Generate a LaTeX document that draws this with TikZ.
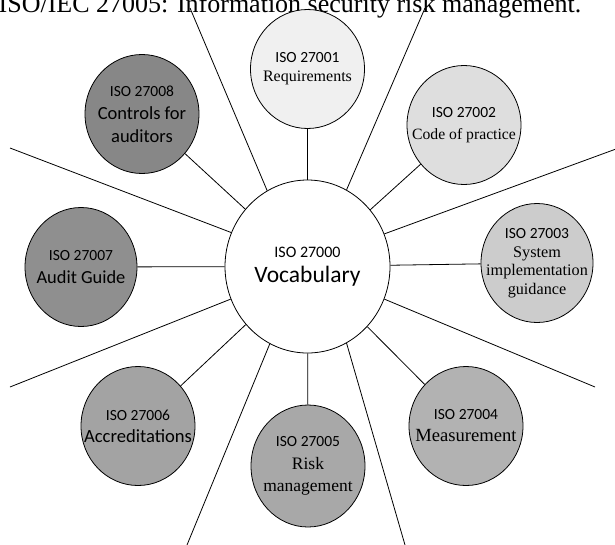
\documentclass[tikz,border=0pt]{standalone}
\usepackage{fontspec}
\setmainfont{Liberation Serif}
\newfontfamily\carl{Carlito}
\usetikzlibrary{shapes.geometric}
\newcommand\fsz[2]{\fontsize{#1}{#2}\selectfont}
\begin{document}
\begin{tikzpicture}[x=1pt,y=-1pt,
  bub/.style={ellipse, draw=black, line width=0.8pt, inner sep=0pt, minimum width=114pt, minimum height=119pt},
  txt/.style={align=center, inner sep=0pt, text=black},
  ray/.style={draw=black, line width=0.8pt},
]
\useasboundingbox (0,0) rectangle (615,544);

% title (partly cut off at the top, as in the reference)
\node[anchor=base, inner sep=0pt] (title) at (290,12) {\fsz{26}{30}ISO/IEC 27005: Information security risk management.};

% circles
\node[bub, fill=white, minimum width=165pt, minimum height=173pt] (c0) at (307.5,266.5) {};
\node[bub, fill=black!6]  (c1) at (307.5,69) {};
\node[bub, fill=black!13] (c2) at (464,125) {};
\node[bub, fill=black!20, minimum width=112pt] (c3) at (537,263) {};
\node[bub, fill=black!30] (c4) at (466,426) {};
\node[bub, fill=black!34, minimum height=122pt] (c5) at (308,466) {};
\node[bub, fill=black!36] (c6) at (138,426) {};
\node[bub, fill=black!44, minimum width=112pt] (c7) at (81,267) {};
\node[bub, fill=black!47] (c8) at (142,114) {};

% connectors to the satellites
\foreach \i in {1,...,8} \draw[ray] (c0) -- (c\i);

% long rays
\coordinate (e1) at (190,8);
\coordinate (e2) at (425,8);
\coordinate (e3) at (616,149);
\coordinate (e4) at (595,387);
\coordinate (e5) at (405,545);
\coordinate (e6) at (187,545);
\coordinate (e7) at (10,387);
\coordinate (e8) at (10,148);
\draw[ray] (c0.118.8) -- (e1);
\draw[ray] (c0.63.9) -- (e2);
\draw[ray] (c0.23.4) -- (e3);
\draw[ray] (c0.-23.9) -- (e4);
\draw[ray] (c0.-63.3) -- (e5);
\draw[ray] (c0.-116) -- (e6);
\draw[ray] (c0.203.9) -- (e7);
\draw[ray] (c0.156) -- (e8);

% texts
\node[txt, font=\fsz{16}{25}] (t0) at (c0) {{\carl\fsz{16}{25}ISO 27000}\\{\carl\fsz{23.5}{25}Vocabulary}};
\node[txt, font=\fsz{16}{19}] (t1) at (c1) {{\carl\fsz{15.5}{19}ISO 27001}\\{\fsz{16}{19}Requirements}};
\node[txt, font=\fsz{16}{22}] (t2) at (c2) {{\carl\fsz{15.5}{22}ISO 27002}\\{\fsz{15.7}{22}Code of practice}};
\node[txt, font=\fsz{16}{18.5}] (t3) at (c3) {{\carl\fsz{15.5}{18.5}ISO 27003}\\{\fsz{16.2}{18.5}System}\\{\fsz{16.2}{18.5}implementation}\\{\fsz{16.2}{18.5}guidance}};
\node[txt, font=\fsz{16}{22}] (t4) at (c4) {{\carl\fsz{15.5}{22}ISO 27004}\\{\fsz{18.6}{22}Measurement}};
\node[txt, font=\fsz{16}{22.5}] (t5) at (c5) {{\carl\fsz{15.5}{22.5}ISO 27005}\\{\fsz{17.5}{22.5}Risk}\\{\fsz{17.5}{22.5}management}};
\node[txt, font=\fsz{16}{22}] (t6) at (c6) {{\carl\fsz{15.5}{22}ISO 27006}\\{\carl\fsz{18.6}{22}Accreditations}};
\node[txt, font=\fsz{16}{23}] (t7) at (c7) {{\carl\fsz{15.5}{23}ISO 27007}\\{\carl\fsz{18.4}{23}Audit Guide}};
\node[txt, font=\fsz{16}{23}] (t8) at (c8) {{\carl\fsz{15.5}{23}ISO 27008}\\{\carl\fsz{18.5}{23}Controls for}\\{\carl\fsz{18.5}{23}auditors}};
\end{tikzpicture}
\end{document}
